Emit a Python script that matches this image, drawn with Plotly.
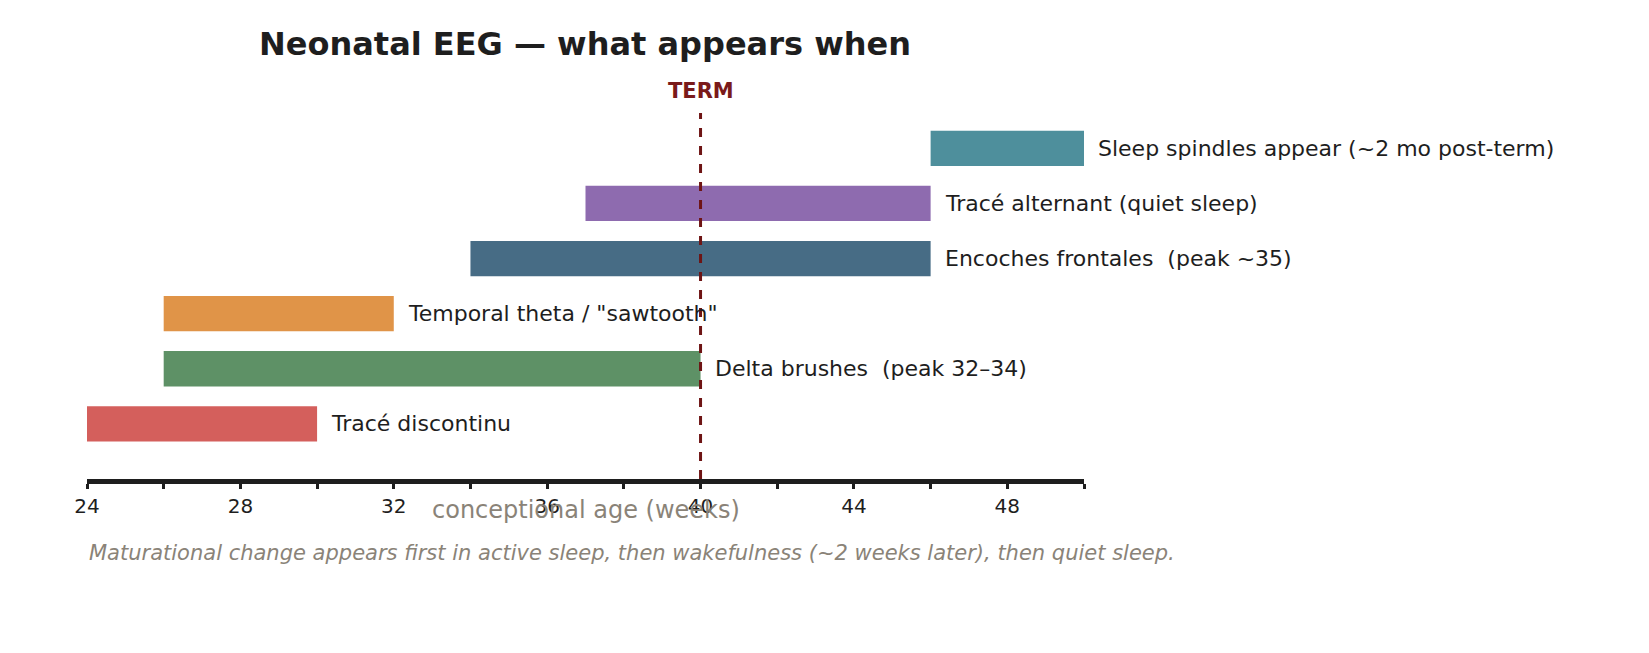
import plotly.graph_objects as go

# Data
labels = ["Tracé discontinu", "Delta brushes  (peak 32–34)", 'Temporal theta / "sawtooth"',
          "Encoches frontales  (peak ~35)", "Tracé alternant (quiet sleep)",
          "Sleep spindles appear (~2 mo post-term)"]
starts = [24, 26, 26, 34, 37, 46]
ends = [30, 40, 32, 46, 46, 50]
colors = ["#d45f5c", "#5e9166", "#e09448", "#476c85", "#8e6baf", "#4e8f9c"]
term = 40
tick_vals = [24, 28, 32, 36, 40, 44, 48]

fig = go.Figure()
rows = list(range(len(labels)))
fig.add_trace(go.Bar(
    y=rows, x=[e - s for s, e in zip(starts, ends)], base=starts, orientation="h",
    marker=dict(color=colors, line=dict(width=0)), width=0.64, hoverinfo="skip"))

for i, (lab, e) in enumerate(zip(labels, ends)):
    fig.add_annotation(x=e, y=i, text=lab, showarrow=False, xanchor="left", xshift=12,
                       font=dict(size=22, color="#1e1e1e"))

fig.add_shape(type="line", x0=term, x1=term, y0=-1, y1=5.64, xref="x", yref="y",
              line=dict(color="#6e1414", width=3, dash="dash"))
fig.add_annotation(x=term, y=5.64, text="<b>TERM</b>", showarrow=False, yanchor="bottom",
                   yshift=8, font=dict(size=21, color="#7a1a1a"))

fig.add_annotation(xref="paper", yref="paper", x=0.5, y=0, yshift=-47, showarrow=False,
                   text="conceptional age (weeks)", font=dict(size=24, color="#8a8378"))
fig.add_annotation(xref="paper", yref="paper", x=0, y=0, yshift=-88, xanchor="left",
                   showarrow=False,
                   text="<i>Maturational change appears first in active sleep, then wakefulness (~2 weeks later), then quiet sleep.</i>",
                   font=dict(size=21, color="#8a8378"))

fig.update_layout(
    width=1649, height=653, plot_bgcolor="white", paper_bgcolor="white",
    margin=dict(l=79, r=573, t=105, b=182), showlegend=False,
    font=dict(family="DejaVu Sans"),
    title=dict(text="<b>Neonatal EEG — what appears when</b>", x=577 / 1649, xanchor="center",
               y=0.945, yanchor="middle", font=dict(size=32, color="#1e1e1e")),
    xaxis=dict(range=[24, 50], tickvals=tick_vals, showgrid=False, zeroline=False,
               showline=True, linecolor="#1e1e1e", linewidth=5, ticks="outside",
               ticklen=5, tickwidth=3, tickcolor="#1e1e1e",
               minor=dict(dtick=2, tick0=24, ticks="outside", ticklen=5, tickwidth=3,
                          tickcolor="#1e1e1e"),
               tickfont=dict(size=20, color="#1e1e1e")),
    yaxis=dict(range=[-1, 5.64], visible=False),
)
fig.write_html("out.html")
